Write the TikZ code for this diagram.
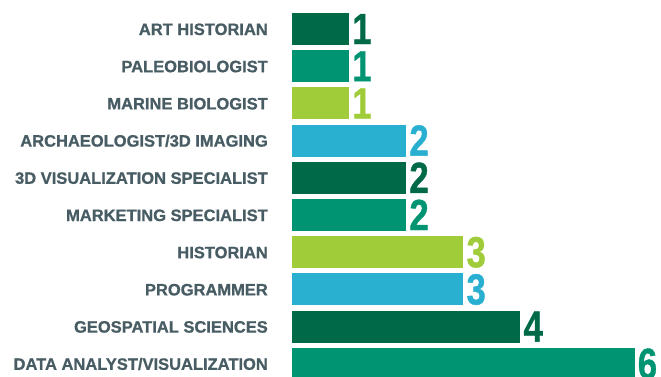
\documentclass[tikz,border=0pt]{standalone}
\usepackage{fontspec}
\setmainfont{Liberation Sans}[BoldFeatures={FakeBold=0.9}]
\definecolor{dkgreen}{RGB}{0,105,72}
\definecolor{teal}{RGB}{0,148,114}
\definecolor{lime}{RGB}{160,204,58}
\definecolor{cyanbar}{RGB}{41,175,208}
\definecolor{labelgray}{RGB}{72,92,100}
\begin{document}
\begin{tikzpicture}[x=1pt,y=-1pt,
  lbl/.style={anchor=base east, inner sep=0pt, text=labelgray, font=\fontsize{16.5}{16.5}\selectfont\bfseries},
  barbox/.style={draw=none, inner sep=0pt, outer sep=0pt, anchor=north west, minimum height=32pt},
  num/.style={anchor=base west, inner sep=0pt, font=\fontsize{43.5}{43.5}\selectfont\bfseries}]
\useasboundingbox (0,0) rectangle (661,376);
\foreach \i/\t/\v/\c in {
  0/ART HISTORIAN/1/dkgreen,
  1/PALEOBIOLOGIST/1/teal,
  2/MARINE BIOLOGIST/1/lime,
  3/ARCHAEOLOGIST\slash 3D IMAGING/2/cyanbar,
  4/3D VISUALIZATION SPECIALIST/2/dkgreen,
  5/MARKETING SPECIALIST/2/teal,
  6/HISTORIAN/3/lime,
  7/PROGRAMMER/3/cyanbar,
  8/GEOSPATIAL SCIENCES/4/dkgreen,
  9/DATA ANALYST\slash VISUALIZATION/6/teal} {
  \node[barbox, fill=\c, minimum width={57.1pt*\v}] (b\i) at (292, 13+37.2*\i) {};
  \node[lbl] (l\i) at (268, 35+37.2*\i) {\t};
  \node[num, text=\c] (n\i) at (295+57.1*\v, 44+37.2*\i) {\scalebox{0.8}[1]{\v}};
}
\end{tikzpicture}
\end{document}
